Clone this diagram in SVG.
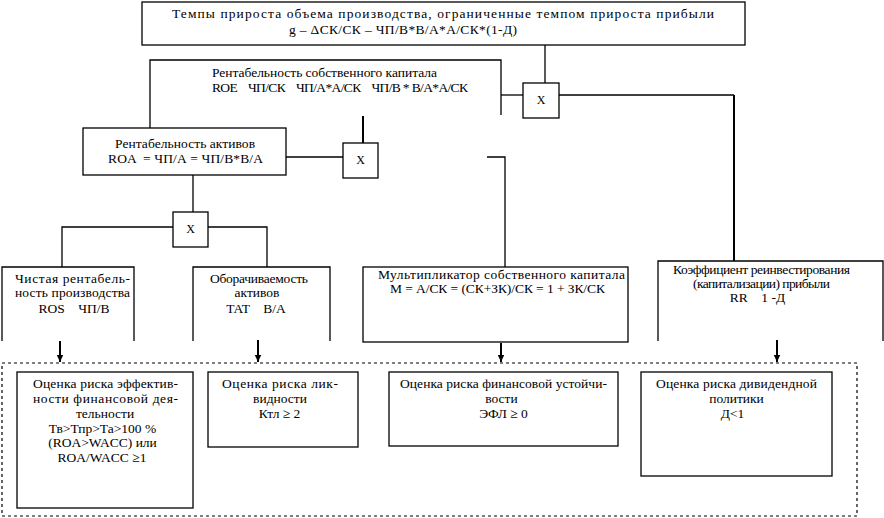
<svg xmlns="http://www.w3.org/2000/svg" width="884" height="518" viewBox="0 0 884 518">
<style>
text{font-family:"Liberation Serif","Times New Roman",serif;font-size:13.5px;fill:#000;text-anchor:middle;white-space:pre}
.b{fill:#fff;stroke:#000;stroke-width:1.3}
.o{fill:none;stroke:#000;stroke-width:1.3}
.c{fill:none;stroke:#000;stroke-width:1.3}
.t{fill:none;stroke:#000;stroke-width:2}
.d{fill:none;stroke:#000;stroke-width:1.2;stroke-dasharray:3 3}
.x{font-size:12px}
</style>
<defs>
<marker id="ah" markerUnits="userSpaceOnUse" markerWidth="8" markerHeight="8" refX="7" refY="4" orient="auto">
<path d="M0,0.8 L7,4 L0,7.2 Z" fill="#000"/>
</marker>
</defs>
<rect class="d" x="2" y="363" width="855" height="153"/>
<g id="connectors">
<path class="c" d="M545,45 V83"/>
<path class="c" d="M501,95 H523"/>
<path class="c" d="M559,95 H734"/>
<path class="t" d="M734,95 V261"/>
<path class="t" d="M363,116 V143"/>
<path class="c" d="M286,157 H343"/>
<path class="c" d="M487,157 H505 V267"/>
<path class="c" d="M193,175 V212"/>
<path class="c" d="M173,227 H62 V267"/>
<path class="c" d="M208,227 H267 V267"/>
<path class="t" d="M60,341 V362" marker-end="url(#ah)"/>
<path class="t" d="M258,340 V362" marker-end="url(#ah)"/>
<path class="t" d="M501,343 V362" marker-end="url(#ah)"/>
<path class="t" d="M777,340 V362" marker-end="url(#ah)"/>
</g>
<g id="n-top">
<rect class="b" x="142" y="2" width="603" height="43"/>
<text x="443" y="18" textLength="542" lengthAdjust="spacing">Темпы прироста объема производства, ограниченные темпом прироста прибыли</text>
<text x="403" y="34" textLength="228" lengthAdjust="spacing">g – ΔСК/СК – ЧП/В*В/А*А/СК*(1-Д)</text>
</g>
<g id="n-x1">
<rect class="b" x="523" y="83" width="36" height="35"/>
<text class="x" x="541" y="104">X</text>
</g>
<g id="n-roe">
<path class="o" d="M150,128 V60 H501 V115"/>
<text x="324.5" y="77" textLength="225" lengthAdjust="spacing">Рентабельность собственного капитала</text>
<text x="340" y="92" textLength="256" lengthAdjust="spacing">ROE    ЧП/СК    ЧП/А*А/СК    ЧП/В * В/А*А/СК</text>
</g>
<g id="n-roa">
<rect class="b" x="83" y="128" width="203" height="47"/>
<text x="185" y="148" textLength="140" lengthAdjust="spacing">Рентабельность активов</text>
<text x="185.5" y="163" textLength="155" lengthAdjust="spacing">ROA  = ЧП/А = ЧП/В*В/А</text>
</g>
<g id="n-x2">
<rect class="b" x="343" y="143" width="35" height="35"/>
<text class="x" x="360.5" y="164">X</text>
</g>
<g id="n-x3">
<rect class="b" x="173" y="212" width="35" height="35"/>
<text class="x" x="190.5" y="233">X</text>
</g>
<g id="n-ros">
<path class="o" d="M2,341 V267 H134 V341"/>
<text x="72.5" y="283" textLength="115" lengthAdjust="spacing">Чистая рентабель-</text>
<text x="72.5" y="297" textLength="115" lengthAdjust="spacing">ность производства</text>
<text x="74" y="313">ROS    ЧП/В</text>
</g>
<g id="n-tat">
<path class="o" d="M193,341 V267 H330 V341"/>
<text x="259" y="283" textLength="98" lengthAdjust="spacing">Оборачиваемость</text>
<text x="257" y="297">активов</text>
<text x="256" y="313">TAT    В/А</text>
</g>
<g id="n-mult">
<rect class="b" x="363" y="267" width="265" height="75"/>
<text x="501.5" y="279" textLength="247" lengthAdjust="spacing">Мультипликатор собственного капитала</text>
<text x="497.5" y="293" textLength="215" lengthAdjust="spacing">М = А/СК = (СК+ЗК)/СК = 1 + ЗК/СК</text>
</g>
<g id="n-rr">
<path class="o" d="M658,341 V261 H883 V341"/>
<text x="761.5" y="274" textLength="177" lengthAdjust="spacing">Коэффициент реинвестирования</text>
<text x="761.5" y="288" textLength="137" lengthAdjust="spacing">(капитализации) прибыли</text>
<text x="757.5" y="302">RR    1 -Д</text>
</g>
<g id="n-r1">
<rect class="b" x="17" y="372" width="176" height="136"/>
<text x="105.5" y="388" textLength="145" lengthAdjust="spacing">Оценка риска эффектив-</text>
<text x="105.5" y="403" textLength="145" lengthAdjust="spacing">ности финансовой дея-</text>
<text x="105" y="418">тельности</text>
<text x="102.5" y="433">Тв&gt;Тпр&gt;Та&gt;100 %</text>
<text x="102.5" y="447">(ROA&gt;WACC) или</text>
<text x="102" y="462">ROA/WACC ≥1</text>
</g>
<g id="n-r2">
<rect class="b" x="208" y="372" width="150" height="75"/>
<text x="280" y="388" textLength="116" lengthAdjust="spacing">Оценка риска лик-</text>
<text x="280" y="403">видности</text>
<text x="279.5" y="418">Ктл ≥ 2</text>
</g>
<g id="n-r3">
<rect class="b" x="389" y="372" width="229" height="74"/>
<text x="503.5" y="388" textLength="207" lengthAdjust="spacing">Оценка риска финансовой устойчи-</text>
<text x="501.5" y="403">вости</text>
<text x="503.5" y="418">ЭФЛ ≥ 0</text>
</g>
<g id="n-r4">
<rect class="b" x="641" y="372" width="191" height="104"/>
<text x="736.5" y="388" textLength="161" lengthAdjust="spacing">Оценка риска дивидендной</text>
<text x="736.5" y="403">политики</text>
<text x="732.5" y="418">Д&lt;1</text>
</g>
</svg>
